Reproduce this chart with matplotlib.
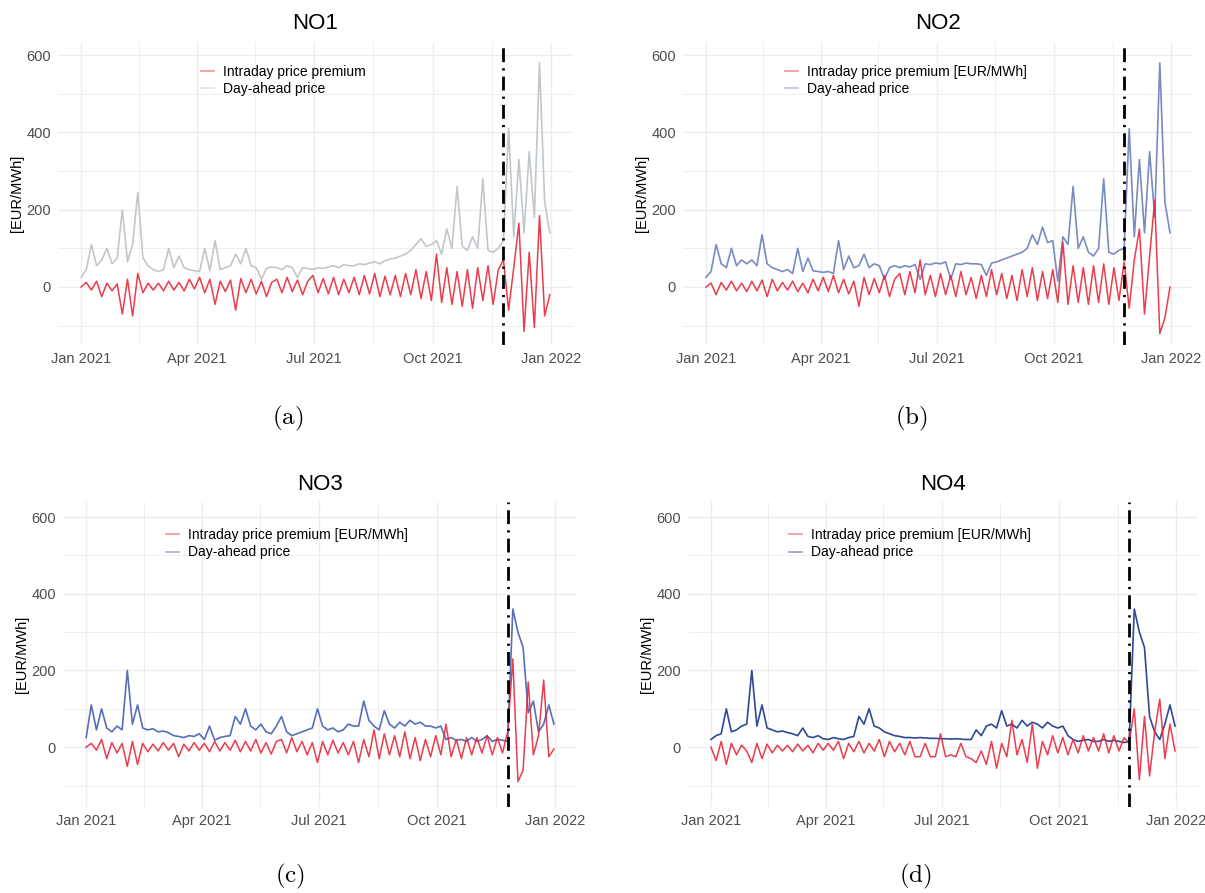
import matplotlib
matplotlib.use("Agg")
import matplotlib.pyplot as plt
import matplotlib.dates as mdates
import pandas as pd
from matplotlib.lines import Line2D
from matplotlib.ticker import FixedLocator

plt.rcParams["mathtext.fontset"] = "cm"
plt.rcParams["font.family"] = ["Liberation Sans", "DejaVu Sans"]

# samples every 4 days through 2021
DATES = pd.date_range("2021-01-01", periods=92, freq="4D")
SPLIT_DATE = pd.Timestamp("2021-11-25")

NO1_DA = [
    25, 45, 110, 55, 70, 100, 60, 75,        # Jan
    200, 65, 110, 245, 75, 55, 45,           # Feb
    40, 45, 100, 50, 80, 50, 45, 42,         # Mar
    40, 100, 42, 120, 45, 50, 55,            # Apr
    85, 60, 100, 55, 50, 20, 48, 52,         # May
    50, 45, 55, 50, 25, 50, 48,              # Jun
    45, 50, 48, 52, 55, 50, 58, 55,          # Jul
    55, 60, 58, 62, 65, 60, 68, 72,          # Aug
    75, 80, 85, 95, 110, 125, 105,           # Sep
    110, 120, 85, 150, 100, 260, 105, 95,    # Oct
    130, 100, 280, 95, 90, 100, 120,         # Nov
    410, 130, 330, 140, 350, 180, 580, 220, 140,  # Dec
]
NO1_PREM = [
    0, 12, -8, 15, -25, 10, -10, 8,
    -70, 20, -75, 35, -15, 10, -8,
    10, -10, 15, -8, 12, -10, 20, -5,
    25, -15, 20, -45, 15, -12, 18,
    -60, 22, -15, 20, -18, 15, -25, 12,
    20, -15, 25, -12, 18, -20, 15,
    30, -15, 22, -18, 25, -20, 20, -15,
    25, -20, 30, -18, 35, -25, 28, -20,
    30, -25, 35, -20, 45, -30, 40,
    -35, 85, -40, 50, -45, 40, -50, 45,
    -55, 50, -35, 55, -45, 45, 70,
    -60, 50, 165, -115, 90, -105, 185, -75, -20,
]

NO2_DA = [
    25, 40, 110, 60, 50, 100, 55, 70,
    60, 70, 55, 135, 60, 50, 45,
    40, 45, 35, 100, 40, 75, 42, 40,
    38, 40, 35, 120, 45, 80, 50,
    55, 85, 50, 60, 55, 20, 50, 55,
    50, 55, 52, 58, 20, 60, 58,
    62, 60, 65, 20, 60, 58, 62, 60,
    60, 58, 30, 62, 65, 70, 75, 80,
    85, 90, 100, 135, 110, 155, 115,
    120, 15, 130, 110, 260, 100, 130, 90,
    80, 100, 280, 90, 85, 95, 100,
    410, 130, 330, 140, 350, 180, 580, 220, 140,
]
NO2_PREM = [
    0, 10, -20, 12, -8, 15, -10, 10,
    -12, 15, -10, 18, -25, 20, -10,
    12, -8, 15, -12, 10, -15, 20, -10,
    25, -12, 30, -15, 20, -18, 15,
    -50, 25, -20, 22, -15, 30, -25, 20,
    35, -20, 40, -15, 70, -20, 30,
    -25, 35, -20, 30, -25, 40, -20, 25,
    -30, 30, -25, 45, -20, 35, -30, 30,
    -35, 45, -25, 50, -35, 40, -30,
    45, -40, 115, -45, 55, -40, 50, -45,
    55, -40, 60, -45, 50, -35, 65,
    -55, 70, 150, -70, 80, 225, -120, -80, 0,
]

NO3_DA = [
    25, 110, 45, 100, 50, 40, 55, 45,
    200, 60, 110, 50, 45, 48, 40,
    42, 38, 30, 28, 25, 30, 28, 35,
    20, 55, 18, 25, 28, 30, 80,
    60, 100, 55, 45, 60, 40, 35, 55,
    80, 40, 30, 35, 40, 45, 50,
    100, 55, 45, 50, 40, 45, 60, 55,
    55, 120, 70, 55, 45, 95, 60, 50,
    65, 55, 70, 60, 65, 55, 55,
    50, 55, 20, 25, 18, 20, 15, 25,
    15, 20, 30, 15, 20, 18, 15,
    360, 300, 260, 90, 120, 40, 60, 110, 60,
]
NO3_PREM = [
    0, 10, -8, 20, -30, 12, -15, 10,
    -50, 15, -45, 10, -12, 8, -10,
    12, -8, 10, -25, 8, -10, 12, -8,
    10, -12, 15, -10, 12, -8, 18,
    -12, 15, -10, 20, -15, 12, -18, 15,
    20, -15, 25, -12, 15, -20, 12,
    -40, 15, -20, 18, -15, 12, -20, 15,
    -40, 20, -25, 45, -30, 35, -20, 30,
    -25, 40, -30, 25, -35, 20, -25,
    30, -20, 60, -25, 20, -30, 25, -20,
    25, -15, 30, -20, 25, -15, 40,
    230, -90, -60, 170, -20, 30, 175, -25, -5,
]

NO4_DA = [
    20, 30, 35, 100, 40, 45, 55, 60,
    200, 55, 110, 50, 45, 40, 42,
    38, 35, 30, 50, 28, 25, 30, 22,
    20, 25, 22, 20, 25, 28, 80,
    60, 100, 55, 50, 40, 35, 30, 28,
    25, 25, 24, 25, 24, 23, 23,
    22, 22, 21, 22, 21, 20, 20, 45,
    30, 55, 60, 50, 95, 55, 60, 50,
    70, 55, 65, 60, 50, 65, 55,
    50, 55, 30, 20, 15, 18, 20, 15,
    15, 20, 15, 18, 15, 12, 15,
    360, 300, 260, 80, 40, 20, 60, 110, 55,
]
NO4_PREM = [
    0, -35, 15, -45, 10, -20, 5, -10,
    -40, 10, -30, 8, -15, 5, -10,
    5, -12, 8, -10, 5, -15, 10, -8,
    10, -8, 15, -30, 10, -12, 15,
    -15, 10, -10, 20, -25, 15, -12, 10,
    -20, 15, -25, -25, 10, -25, -25,
    35, -25, -20, -25, 10, -25, -30, -40,
    -10, -45, 15, -55, 10, -25, 70, -20,
    20, -40, 60, -55, 15, -20, 30,
    -15, 25, -20, 20, -15, 30, -10, 25,
    -10, 35, -15, 30, -10, 25, 10,
    100, -85, 80, -75, 40, 125, -30, 60, -10,
]

RED = "#E8283A"
GRID = "#EDEDED"
TICK_GREY = "#4D4D4D"

MAJOR_X = pd.to_datetime(["2021-01-01", "2021-04-01", "2021-07-01",
                          "2021-10-01", "2022-01-01"])
MINOR_X = pd.to_datetime(["2021-02-15", "2021-05-16", "2021-08-16",
                          "2021-11-16"])


def draw_panel(ax, title, da, prem, da_color, prem_label, leg_x, leg_y, ylim):
    ax.plot(DATES, da, color=da_color, lw=1.2, alpha=0.95)
    ax.plot(DATES, prem, color=RED, lw=1.1, alpha=0.9)
    ax.axvline(SPLIT_DATE, color="black", lw=2.0,
               linestyle=(0, (5, 2.2, 0.8, 2.2)))

    ax.set_xlim(pd.Timestamp("2020-12-14"), pd.Timestamp("2022-01-18"))
    ax.set_ylim(*ylim)
    ax.xaxis.set_major_locator(FixedLocator(mdates.date2num(MAJOR_X)))
    ax.xaxis.set_minor_locator(FixedLocator(mdates.date2num(MINOR_X)))
    ax.xaxis.set_major_formatter(mdates.DateFormatter("%b %Y"))
    ax.yaxis.set_major_locator(FixedLocator([0, 200, 400, 600]))
    ax.yaxis.set_minor_locator(FixedLocator([-100, 100, 300, 500]))

    ax.grid(which="major", color=GRID, lw=1.0)
    ax.grid(which="minor", color=GRID, lw=0.6)
    ax.set_axisbelow(True)
    for s in ax.spines.values():
        s.set_visible(False)
    ax.tick_params(which="both", length=0, labelsize=10.5,
                   labelcolor=TICK_GREY, pad=5)
    ax.set_ylabel("[EUR/MWh]", fontsize=10.5, labelpad=2)
    ax.set_title(title, fontsize=16, pad=9)

    handles = [
        Line2D([], [], color=RED, lw=1.2, alpha=0.5),
        Line2D([], [], color=da_color, lw=1.2, alpha=0.5),
    ]
    ax.legend(handles, [prem_label, "Day-ahead price"], loc="upper left",
              bbox_to_anchor=(leg_x, leg_y), frameon=False, fontsize=10,
              handlelength=0.95, handletextpad=0.65, labelspacing=0.25,
              borderpad=0, borderaxespad=0)


def main():
    fig = plt.figure(figsize=(12.05, 8.93), dpi=100)

    ax_a = fig.add_axes([0.0481, 0.6137, 0.4274, 0.3393])
    ax_b = fig.add_axes([0.5668, 0.6137, 0.4232, 0.3393])
    ax_c = fig.add_axes([0.0523, 0.0963, 0.4266, 0.3415])
    ax_d = fig.add_axes([0.5710, 0.0963, 0.4232, 0.3415])

    unit = "Intraday price premium [EUR/MWh]"
    draw_panel(ax_a, "NO1", NO1_DA, NO1_PREM, "#BFC4CA",
               "Intraday price premium", 0.278, 0.925, (-150, 634))
    draw_panel(ax_b, "NO2", NO2_DA, NO2_PREM, "#7385BD",
               unit, 0.20, 0.925, (-150, 634))
    draw_panel(ax_c, "NO3", NO3_DA, NO3_PREM, "#4E66B4",
               unit, 0.20, 0.915, (-156, 639))
    draw_panel(ax_d, "NO4", NO4_DA, NO4_PREM, "#233F8F",
               unit, 0.198, 0.915, (-156, 639))

    for x, y, letter in [(288, 418, "a"), (911, 418, "b"),
                         (290, 876, "c"), (915, 876, "d")]:
        fig.text(x / 1205, 1 - y / 893, r"$\mathrm{(" + letter + ")}$",
                 fontsize=18, ha="center", va="center")

    fig.savefig("out.png", dpi=100)
    plt.close(fig)


if __name__ == "__main__":
    main()
